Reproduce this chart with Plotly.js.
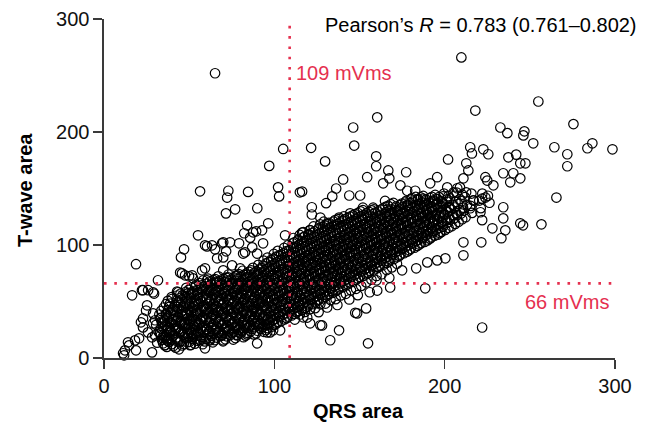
<!DOCTYPE html>
<html>
<head>
<meta charset="utf-8">
<script src="https://cdn.plot.ly/plotly-3.0.1.min.js"></script>
<style>html,body{margin:0;padding:0;background:#fff;}#chart{width:649px;height:431px;}</style>
</head>
<body>
<div id="chart"></div>
<script>
// Scattered points (QRS area, T-wave area)
const outlierQrs = [
65.2,209.8,255,218,160.4,146.3,275.6,105.2,121.6,129.8,
97,56.4,73,84.6,102.2,102.8,115,72.3,90,71.6,
77,146.9,232.7,236.8,246.8,246.2,252,264.4,272,272,
283.8,286.7,298.5,202,222.7,225.6,215,216,159.8,159.8,
177.4,166.9,154.5,140.4,136.3,134,130.4,122,150.4,144,
163.9,167.5,174,195.6,191.5,201.5,207.4,212.7,213.9,211,
223.9,228.6,234.4,240.3,244.4,247.4,238.5,244.4,223.9,265.6,
234.4,116.3,122,242,237.4,234.4,222,221,18.8,55.2,
47,45.2,60.5,65.2,70,74,66.4,70,71.7,79.3,
84,82.3,87.5,92.8,96.4,106.3,85.8,81.7,87,93.4,
89.9,45.8,49.9,52.3,31.7,22.9,25.9,28.8,16.5,43.5,
59.3,60.5,70,75.2,79.9,78.1,72.9,11.8,12.3,14.7,
18.2,20.6,28.2,22.9,25.3,21.7,22.9,25.8,28.8,30,
28.8,37,35.8,44,50.5,56.4,59.3,62.3,70,69.3,
78.1,84,89.9,95.8,99.3,103.4,222,155,132.8,138,
148.6,153.9,188.6,175,183.3,200.4,211,211,221.5,228,
233.3,235.6,244.4,256.8,168,160.4,195.6,189.8,121,128,
119.3,11.2,18.8,30,28.2,34.7,38.8,14.1,24.7,61.7,
79.9,97.5,95.8,22.3,29.4,42.9,44.7,47.6,51.7,59.3,
63.4,69.3,82.8,89.3,57.6,66.4,127,131,144.5,152,
158,165,178,182.7,187.4,193.3,209,203,215,216.8,
222,225,116.3,121,246,160,167.5,117,127,147.5
];
const outlierTwave = [
252,266,227,219,213,204,207,185,186,174,
170,147.5,148,147,151,143,146.6,142,132.5,128,
131.6,188,204,199,200.6,197,190,186.5,180.3,169.7,
185.6,190,184.7,175.7,184.7,180.3,186.5,181,178.5,169.7,
164.4,166,160,158,150,143,137,133.4,143.8,143.8,
154.6,159,152.8,160,154.6,151,150.2,172.3,166,159,
160,152.8,163.5,163.5,172.3,172.3,155.5,159,142,142,
133.4,147.3,127,180,177.6,123.6,122,129,83,108.6,
96.2,89,98.8,96.2,102.4,102.4,88.2,89,94.4,101.5,
117.4,110.4,111.2,113,119.2,108.6,106.5,92.4,97.9,101.5,
92.4,74.9,72.3,70.5,68.8,60,60,58.2,55.5,58.2,
79.4,68.8,77.6,82,79.4,73.2,71.4,2.4,6.8,11.2,
15.6,17.4,5,35,46.6,31.6,27.1,22.7,30.7,20,
39.5,15.7,11.3,7.7,11.3,15.7,8.6,15.7,15.7,20,
20,20.9,13,22.7,24.5,24.5,27,13,15.7,24.5,
39.5,43.9,61.7,77.6,79.4,88.2,90.9,102.4,102.4,114.8,
106,113,119.2,118.3,62.4,59.7,86.4,84.6,30.7,28.8,
35.8,4.2,6.8,33.4,18.3,13,24.5,13.9,42,15.7,
22.7,22.7,28.8,60,57,58.8,75.6,73.2,73.2,99.7,
99.7,101.5,93.5,112.1,77.6,66.9,124.3,119,128,133,
133,139,148,148,141,139,151,133,132.5,139.6,
141,157,111,113,117.4,68.8,71,36,29,40
];

// Lower fringe of the cloud between 110 and 175 mVms
const edgeQrs = [
112,115,118,121,124,127,130,133,136,139,
142,145,148,151,154,157,160,163,166,169,
172,114,126,137,144,156,131,149
];
const edgeTwave = [
34,38.5,40.8,43.2,44.1,47.5,48.2,51.3,52.1,55.4,
56.8,59.9,61.2,63.8,66.9,69.3,72.6,74.1,77.8,80.2,
83.4,45,40.6,46.9,51.8,58.2,44.7,55.6
];

// Dense core of the cloud, column by column (first pass)
const coreQrs = [
31.2,33.4,32.1,30.6,33.8,32.5,
35.6,34.2,36.3,34.8,35.9,33.7,36.5,35.1,
38.4,37.1,39.2,37.8,38.9,36.9,39.6,38.2,37.5,
40.7,41.9,40.2,42.3,41.1,39.8,42.0,40.5,41.6,40.1,
44.3,43.2,45.1,43.8,44.9,42.9,45.4,44.0,43.5,44.7,
46.8,47.6,46.1,48.2,47.0,45.9,48.0,46.5,47.4,46.2,47.9,
50.2,49.4,51.1,49.8,50.6,48.9,51.3,50.0,49.2,50.9,49.7,
53.4,52.1,54.0,52.7,53.8,51.9,54.2,52.5,53.1,54.4,52.3,53.6,
56.1,55.3,57.0,55.8,56.7,54.9,57.3,55.6,56.4,55.1,57.1,56.0,
59.2,58.4,60.1,58.9,59.7,58.0,60.3,58.7,59.5,58.2,60.0,59.1,
62.3,61.2,63.1,61.7,62.8,61.0,63.4,61.9,62.6,61.4,63.0,62.1,
65.1,64.3,66.0,64.7,65.6,64.0,66.2,64.5,65.4,64.2,65.9,64.8,65.3,
68.2,67.4,69.1,67.8,68.7,67.1,69.3,67.6,68.5,67.3,69.0,68.0,
71.3,70.2,72.1,70.8,71.7,70.1,72.4,70.6,71.5,70.4,72.0,70.9,71.6,
74.1,73.3,75.0,73.7,74.6,73.0,75.3,73.5,74.4,73.2,74.9,74.0,
77.2,76.3,78.1,76.8,77.7,76.1,78.3,76.6,77.5,76.4,78.0,76.9,77.4,
80.3,79.4,81.2,79.8,80.8,79.1,81.3,79.6,80.5,79.3,81.0,80.1,
83.1,82.2,84.0,82.7,83.6,82.0,84.2,82.5,83.4,82.3,83.9,82.8,83.5,
86.2,85.3,87.1,85.8,86.7,85.1,87.3,85.6,86.5,85.4,87.0,85.9,86.4,
89.3,88.2,90.1,88.7,89.6,88.0,90.3,88.5,89.4,88.4,90.0,88.9,89.5,
92.1,91.3,93.0,91.8,92.7,91.1,93.2,91.6,92.5,91.4,92.9,91.9,92.4,
95.2,94.3,96.1,94.8,95.7,94.1,96.3,94.6,95.5,94.4,96.0,94.9,95.4,95.0,
98.3,97.2,99.1,97.8,98.6,97.0,99.3,97.6,98.4,97.4,99.0,97.9,98.5,98.1,
101.2,100.3,102.1,100.7,101.6,100.1,102.3,100.5,101.4,100.4,102.0,100.8,101.5,101.1,
104.1,103.2,105.0,103.7,104.6,103.0,105.2,103.5,104.4,103.3,104.9,103.8,104.5,104.0,
107.3,106.2,108.1,106.8,107.6,106.0,108.3,106.6,107.4,106.4,108.0,106.9,107.5,107.1,
110.2,109.3,111.1,109.8,110.7,109.1,111.3,109.6,110.5,109.4,111.0,109.9,110.4,110.0,110.8,
113.1,112.2,114.0,112.7,113.6,112.0,114.2,112.5,113.4,112.3,113.9,112.8,113.5,113.0,113.7,
116.2,115.3,117.1,115.8,116.7,115.1,117.3,115.6,116.5,115.4,117.0,115.9,116.4,116.0,116.8,
119.3,118.2,120.1,118.8,119.6,118.0,120.3,118.6,119.4,118.4,120.0,118.9,119.5,119.1,119.8,
122.1,121.3,123.0,121.8,122.7,121.1,123.2,121.6,122.5,121.4,122.9,121.9,122.4,122.0,122.8,
125.2,124.3,126.1,124.8,125.7,124.1,126.3,124.6,125.5,124.4,126.0,124.9,125.4,125.0,125.8,
128.3,127.2,129.1,127.8,128.6,127.0,129.3,127.6,128.4,127.4,129.0,127.9,128.5,128.1,128.8,
131.1,130.2,132.0,130.7,131.6,130.0,132.2,130.5,131.4,130.3,131.9,130.8,131.5,131.0,131.7,
134.2,133.3,135.1,133.8,134.7,133.1,135.3,133.6,134.5,133.4,135.0,133.9,134.4,134.0,134.8,
137.3,136.2,138.1,136.8,137.6,136.0,138.3,136.6,137.4,136.4,138.0,136.9,137.5,137.1,137.8,
140.1,139.3,141.0,139.8,140.7,139.1,141.2,139.6,140.5,139.4,140.9,139.9,140.4,140.0,140.8,
143.2,142.3,144.1,142.8,143.7,142.1,144.3,142.6,143.5,142.4,144.0,142.9,143.4,143.0,
146.3,145.2,147.1,145.8,146.6,145.0,147.3,145.6,146.4,145.4,147.0,145.9,146.5,146.1,
149.1,148.2,150.0,148.7,149.6,148.0,150.2,148.5,149.4,148.3,149.9,148.8,149.5,149.0,
152.2,151.3,153.1,151.8,152.7,151.1,153.3,151.6,152.5,151.4,153.0,151.9,152.4,152.0,
155.3,154.2,156.1,154.8,155.6,154.0,156.3,154.6,155.4,154.4,156.0,154.9,155.5,
158.1,157.3,159.0,157.8,158.7,157.1,159.2,157.6,158.5,157.4,158.9,157.9,158.4,
161.2,160.3,162.1,160.8,161.7,160.1,162.3,160.6,161.5,160.4,162.0,160.9,
164.3,163.2,165.1,163.8,164.6,163.0,165.3,163.6,164.4,163.4,165.0,163.9,
167.1,166.2,168.0,166.7,167.6,166.0,168.2,166.5,167.4,166.3,167.9,166.8,
170.2,169.3,171.1,169.8,170.7,169.1,171.3,169.6,170.5,169.4,171.0,169.9,
173.3,172.2,174.1,172.8,173.6,172.0,174.3,172.6,173.4,172.4,174.0,
176.1,175.2,177.0,175.7,176.6,175.0,177.2,175.5,176.4,175.3,176.9,
179.2,178.3,180.1,178.8,179.7,178.1,180.3,178.6,179.5,178.4,180.0,
182.3,181.2,183.1,181.8,182.6,181.0,183.3,181.6,182.4,181.4,183.0,
185.1,184.3,186.0,184.8,185.7,184.1,186.2,184.6,185.5,184.4,
188.2,187.3,189.1,187.8,188.7,187.1,189.3,187.6,188.5,187.4,
191.3,190.2,192.1,190.8,191.6,190.0,192.3,190.6,191.4,
194.1,193.2,195.0,193.7,194.6,193.0,195.2,193.5,194.4,
197.2,196.3,198.1,196.8,197.7,196.1,198.3,196.6,
200.3,199.2,201.1,199.8,200.6,199.0,201.3,199.6,
204.1,203.2,205.0,203.7,204.6,203.0,205.2,
208.2,207.3,209.1,207.8,208.7,207.1,
212.3,211.2,213.1,211.8,212.6,
216.1,215.2,217.0,215.7,
221.2,220.3,222.1,
226.3,225.4
];
const coreTwave = [
13.6,20.2,23.1,29.4,32.2,38.5,
11.4,17.8,20.3,26.9,29.2,35.8,39.1,44.7,
14.2,17.1,23.4,26.2,32.1,35.4,41.8,45.3,50.6,
10.6,16.8,19.4,25.7,28.3,33.9,37.2,43.8,46.5,52.4,
13.8,16.5,22.9,25.3,31.6,34.2,40.7,43.4,49.8,53.1,
12.4,18.9,22.1,27.8,31.3,36.9,40.2,45.8,49.1,55.7,58.4,
14.3,19.8,23.2,29.6,32.4,38.7,41.3,47.9,50.2,56.8,60.3,
12.7,18.6,21.4,27.9,30.5,36.8,39.4,45.7,48.3,54.9,57.2,63.4,
16.4,21.9,25.3,30.8,34.2,39.6,43.1,48.7,52.4,57.9,61.3,66.2,
14.7,18.3,24.6,27.4,33.8,36.2,42.9,45.5,51.7,54.3,60.8,63.6,
17.5,22.8,26.4,31.9,35.3,40.8,44.2,49.6,53.1,58.7,62.4,67.8,
15.8,21.4,24.7,30.3,33.6,39.2,42.5,48.1,51.6,57.3,60.7,66.4,69.8,
19.3,23.6,28.9,32.4,37.8,41.3,46.7,50.2,55.8,59.4,64.7,68.1,
16.6,22.4,25.8,31.2,34.7,40.3,43.6,49.2,52.8,58.3,61.7,67.4,71.2,
20.4,24.7,29.8,33.5,38.9,42.4,47.8,51.3,56.7,60.2,65.6,68.8,
17.7,23.3,26.6,32.2,35.5,41.1,44.4,50.2,53.6,59.3,62.7,68.4,72.6,
21.6,26.3,30.7,35.4,39.6,44.3,48.5,53.2,57.4,62.3,66.5,71.3,
19.8,25.4,28.7,34.3,37.6,43.2,46.5,52.3,55.6,61.2,64.4,70.3,74.6,
23.7,28.4,32.6,37.3,41.5,46.2,50.4,55.3,59.5,64.2,68.4,73.3,77.6,
21.8,27.3,30.6,36.2,39.5,45.3,48.6,54.2,57.5,63.3,66.6,72.4,76.7,
25.6,30.4,34.7,39.3,43.6,48.3,52.5,57.2,61.4,66.3,70.5,75.2,79.6,
24.8,29.3,33.6,38.4,42.6,47.3,51.5,56.4,60.6,65.2,69.4,74.3,78.5,83.7,
27.7,32.4,36.6,41.3,45.5,50.4,54.6,59.3,63.5,68.4,72.6,77.3,81.6,86.8,
30.4,34.6,39.3,43.5,48.4,52.6,57.3,61.5,66.4,70.6,75.3,79.5,84.6,89.8,
32.7,37.4,41.6,46.3,50.5,55.4,59.6,64.3,68.5,73.4,77.6,82.3,86.5,91.7,
35.3,39.6,44.4,48.5,53.3,57.4,62.3,66.5,71.4,75.6,80.3,84.5,89.4,94.6,
37.6,42.3,46.5,51.4,55.6,60.3,64.5,69.4,73.6,78.3,82.5,87.4,91.6,96.8,101.5,
40.4,44.6,49.3,53.5,58.4,62.6,67.3,71.5,76.4,80.6,85.3,89.5,94.4,98.6,103.8,
42.6,47.3,51.5,56.4,60.6,65.3,69.5,74.4,78.6,83.3,87.5,92.4,96.6,101.3,106.7,
45.3,49.5,54.4,58.6,63.3,67.5,72.4,76.6,81.3,85.5,90.4,94.6,99.3,103.5,108.7,
47.6,52.3,56.5,61.4,65.6,70.3,74.5,79.4,83.6,88.3,92.5,97.4,101.6,106.3,110.8,
50.4,54.6,59.3,63.5,68.4,72.6,77.3,81.5,86.4,90.6,95.3,99.5,104.4,108.6,113.7,
52.7,57.4,61.6,66.3,70.5,75.4,79.6,84.3,88.5,93.4,97.6,102.3,106.5,111.4,115.8,
55.3,59.6,64.4,68.5,73.3,77.4,82.3,86.5,91.4,95.6,100.3,104.5,109.4,113.6,118.2,
57.6,62.3,66.5,71.4,75.6,80.3,84.5,89.4,93.6,98.3,102.5,107.4,111.6,116.3,120.7,
60.4,64.6,69.3,73.5,78.4,82.6,87.3,91.5,96.4,100.6,105.3,109.5,114.4,118.6,122.9,
62.7,67.4,71.6,76.3,80.5,85.4,89.6,94.3,98.5,103.4,107.6,112.3,116.5,121.4,125.3,
65.3,69.6,74.4,78.5,83.3,87.4,92.3,96.5,101.4,105.6,110.3,114.5,119.4,123.8,
67.6,72.3,76.5,81.4,85.6,90.3,94.5,99.4,103.6,108.3,112.5,117.4,121.6,126.2,
70.4,74.6,79.3,83.5,88.4,92.6,97.3,101.5,106.4,110.6,115.3,119.5,124.4,128.3,
72.7,77.4,81.6,86.3,90.5,95.4,99.6,104.3,108.5,113.4,117.6,122.3,126.5,130.8,
75.3,79.6,84.4,88.5,93.3,97.4,102.3,106.5,111.4,115.6,120.3,124.5,129.4,
77.6,82.3,86.5,91.4,95.6,100.3,104.5,109.4,113.6,118.3,122.5,127.4,131.6,
80.4,84.6,89.3,93.5,98.4,102.6,107.3,111.5,116.4,120.6,125.3,129.7,
82.7,87.4,91.6,96.3,100.5,105.4,109.6,114.3,118.5,123.4,127.6,132.5,
85.3,89.6,94.4,98.5,103.3,107.4,112.3,116.5,121.4,125.6,130.3,134.6,
87.6,92.3,96.5,101.4,105.6,110.3,114.5,119.4,123.6,128.3,132.5,137.2,
90.4,94.6,99.3,103.5,108.4,112.6,117.3,121.5,126.4,130.6,135.3,
92.7,97.4,101.6,106.3,110.5,115.4,119.6,124.3,128.5,133.4,137.6,
95.3,99.6,104.4,108.5,113.3,117.4,122.3,126.5,131.4,135.6,140.3,
97.6,102.3,106.5,111.4,115.6,120.3,124.5,129.4,133.6,138.3,142.5,
100.4,104.6,109.3,113.5,118.4,122.6,127.3,131.5,136.4,140.6,
102.7,107.4,111.6,116.3,120.5,125.4,129.6,134.3,138.5,143.4,
105.6,110.3,114.5,119.4,123.6,128.3,132.5,137.4,141.6,
108.3,112.5,117.4,121.6,126.3,130.5,135.4,139.6,144.3,
110.6,115.3,119.5,124.4,128.6,133.3,137.5,142.4,
113.4,118.6,122.3,127.5,131.4,136.6,140.3,145.5,
116.6,122.3,126.5,131.4,135.6,141.3,146.5,
120.5,126.4,130.6,136.3,140.5,146.4,
124.6,130.3,135.5,142.4,146.6,
128.4,134.6,139.3,145.5,
132.6,139.3,145.5,
137.4,143.6
];

// Dense core, second pass (between the first-pass columns)
const coreQrs2 = [
34.0,32.9,33.8,34.5,33.1,33.6,
36.9,37.4,36.0,36.8,37.2,35.8,36.3,37.6,36.4,
39.9,39.1,40.3,38.9,39.6,40.6,39.3,40.1,38.8,39.7,
42.1,43.2,42.8,41.9,43.0,42.4,43.4,42.0,42.9,42.6,43.1,
45.9,45.0,46.2,45.4,46.0,44.8,45.7,46.3,45.2,45.8,44.9,
48.9,48.1,49.3,48.6,47.9,49.0,48.4,49.2,48.0,48.8,49.4,48.3,
51.0,51.9,51.4,52.2,50.8,51.7,51.2,52.0,51.5,50.9,51.8,51.3,
54.8,54.1,55.2,54.5,53.9,55.0,54.3,54.9,54.0,55.3,54.6,54.2,
57.9,57.1,58.2,57.6,56.9,58.0,57.3,57.8,57.0,58.3,57.5,57.2,58.1,
60.1,60.9,60.4,61.2,59.8,60.7,60.2,61.0,60.5,59.9,60.8,60.3,61.1,
63.9,63.1,64.2,63.6,62.9,64.0,63.3,63.8,63.0,64.3,63.5,63.2,64.1,
66.1,66.9,66.4,67.2,65.8,66.7,66.2,67.0,66.5,65.9,66.8,66.3,67.1,
69.9,69.1,70.2,69.6,68.9,70.0,69.3,69.8,69.0,70.3,69.5,69.2,70.1,
72.1,72.9,72.4,73.2,71.8,72.7,72.2,73.0,72.5,71.9,72.8,72.3,73.1,
75.9,75.1,76.2,75.6,74.9,76.0,75.3,75.8,75.0,76.3,75.5,75.2,76.1,
78.1,78.9,78.4,79.2,77.8,78.7,78.2,79.0,78.5,77.9,78.8,78.3,79.1,
81.9,81.1,82.2,81.6,80.9,82.0,81.3,81.8,81.0,82.3,81.5,81.2,82.1,81.4,
84.1,84.9,84.4,85.2,83.8,84.7,84.2,85.0,84.5,83.9,84.8,84.3,85.1,
87.9,87.1,88.2,87.6,86.9,88.0,87.3,87.8,87.0,88.3,87.5,87.2,88.1,87.4,
90.1,90.9,90.4,91.2,89.8,90.7,90.2,91.0,90.5,89.9,90.8,90.3,91.1,90.6,
93.9,93.1,94.2,93.6,92.9,94.0,93.3,93.8,93.0,94.3,93.5,93.2,94.1,93.4,93.7,
96.1,96.9,96.4,97.2,95.8,96.7,96.2,97.0,96.5,95.9,96.8,96.3,97.1,96.6,96.0,
99.9,99.1,100.2,99.6,98.9,100.0,99.3,99.8,99.0,100.3,99.5,99.2,100.1,99.4,99.7,
102.1,102.9,102.4,103.2,101.8,102.7,102.2,103.0,102.5,101.9,102.8,102.3,103.1,102.6,102.0,
105.9,105.1,106.2,105.6,104.9,106.0,105.3,105.8,105.0,106.3,105.5,105.2,106.1,105.4,105.7,
108.1,108.9,108.4,109.2,107.8,108.7,108.2,109.0,108.5,107.9,108.8,108.3,109.1,108.6,108.0,
111.9,111.1,112.2,111.6,110.9,112.0,111.3,111.8,111.0,112.3,111.5,111.2,112.1,111.4,111.7,111.2,
114.1,114.9,114.4,115.2,113.8,114.7,114.2,115.0,114.5,113.9,114.8,114.3,115.1,114.6,114.0,114.9,
117.9,117.1,118.2,117.6,116.9,118.0,117.3,117.8,117.0,118.3,117.5,117.2,118.1,117.4,117.7,117.0,
120.1,120.9,120.4,121.2,119.8,120.7,120.2,121.0,120.5,119.9,120.8,120.3,121.1,120.6,120.0,120.9,
123.9,123.1,124.2,123.6,122.9,124.0,123.3,123.8,123.0,124.3,123.5,123.2,124.1,123.4,123.7,123.0,
126.1,126.9,126.4,127.2,125.8,126.7,126.2,127.0,126.5,125.9,126.8,126.3,127.1,126.6,126.0,126.9,
129.9,129.1,130.2,129.6,128.9,130.0,129.3,129.8,129.0,130.3,129.5,129.2,130.1,129.4,129.7,129.0,
132.1,132.9,132.4,133.2,131.8,132.7,132.2,133.0,132.5,131.9,132.8,132.3,133.1,132.6,132.0,
135.9,135.1,136.2,135.6,134.9,136.0,135.3,135.8,135.0,136.3,135.5,135.2,136.1,135.4,135.7,
138.1,138.9,138.4,139.2,137.8,138.7,138.2,139.0,138.5,137.9,138.8,138.3,139.1,138.6,138.0,
141.9,141.1,142.2,141.6,140.9,142.0,141.3,141.8,141.0,142.3,141.5,141.2,142.1,141.4,
144.1,144.9,144.4,145.2,143.8,144.7,144.2,145.0,144.5,143.9,144.8,144.3,145.1,144.6,
147.9,147.1,148.2,147.6,146.9,148.0,147.3,147.8,147.0,148.3,147.5,147.2,148.1,147.4,
150.1,150.9,150.4,151.2,149.8,150.7,150.2,151.0,150.5,149.9,150.8,150.3,151.1,150.6,
153.9,153.1,154.2,153.6,152.9,154.0,153.3,153.8,153.0,154.3,153.5,153.2,154.1,
156.1,156.9,156.4,157.2,155.8,156.7,156.2,157.0,156.5,155.9,156.8,156.3,157.1,
159.9,159.1,160.2,159.6,158.9,160.0,159.3,159.8,159.0,160.3,159.5,159.2,
162.1,162.9,162.4,163.2,161.8,162.7,162.2,163.0,162.5,161.9,162.8,162.3,
165.9,165.1,166.2,165.6,164.9,166.0,165.3,165.8,165.0,166.3,165.5,165.2,
168.1,168.9,168.4,169.2,167.8,168.7,168.2,169.0,168.5,167.9,168.8,168.3,
171.9,171.1,172.2,171.6,170.9,172.0,171.3,171.8,171.0,172.3,171.5,
174.1,174.9,174.4,175.2,173.8,174.7,174.2,175.0,174.5,173.9,174.8,
177.9,177.1,178.2,177.6,176.9,178.0,177.3,177.8,177.0,178.3,177.5,
180.1,180.9,180.4,181.2,179.8,180.7,180.2,181.0,180.5,179.9,180.8,
183.9,183.1,184.2,183.6,182.9,184.0,183.3,183.8,183.0,184.3,
186.1,186.9,186.4,187.2,185.8,186.7,186.2,187.0,186.5,185.9,
189.9,189.1,190.2,189.6,188.9,190.0,189.3,189.8,189.0,
192.1,192.9,192.4,193.2,191.8,192.7,192.2,193.0,192.5,
195.9,195.1,196.2,195.6,194.9,196.0,195.3,195.8,
198.1,198.9,198.4,199.2,197.8,198.7,198.2,199.0,
202.3,201.6,202.7,201.9,202.5,201.4,202.1,
206.2,205.5,206.8,205.9,206.4,205.7,
210.3,209.6,210.8,209.9,210.4
];
const coreTwave2 = [
16.1,21.8,26.3,31.5,35.2,41.7,
9.8,15.2,19.1,24.6,28.3,33.1,37.9,42.2,47.6,
12.3,15.9,21.7,24.8,30.4,34.3,39.2,42.6,48.1,53.9,
9.2,14.6,18.3,23.9,27.1,32.5,36.4,41.3,45.2,50.7,55.3,
11.1,15.2,20.8,24.1,29.7,32.9,38.6,42.2,47.3,51.8,56.9,
13.9,17.4,21.2,25.6,30.2,34.8,39.3,43.7,48.2,52.9,57.4,62.1,
11.6,16.9,21.5,25.4,29.9,34.6,39.5,44.1,48.8,53.2,58.6,62.4,
15.3,19.7,23.8,28.6,33.1,37.4,41.9,46.5,50.9,55.8,60.1,64.8,
12.2,18.8,23.1,27.9,32.4,36.8,41.6,45.9,50.5,55.1,59.7,64.2,68.6,
16.8,20.9,25.5,29.6,34.4,38.9,43.5,47.8,52.6,56.9,61.5,65.8,70.2,
13.9,19.6,24.3,28.8,33.2,37.9,42.3,46.9,51.4,55.8,60.2,64.9,69.1,
18.1,22.6,27.2,31.8,36.1,40.7,45.2,49.6,54.3,58.8,63.1,67.7,72.3,
14.8,20.7,25.1,29.5,34.2,38.6,43.3,47.7,52.1,56.6,61.2,65.5,70.1,
19.2,23.7,28.1,32.9,37.2,41.8,46.3,50.8,55.2,59.7,64.3,68.6,73.9,
16.3,21.8,26.2,30.7,35.3,39.8,44.2,48.9,53.3,57.8,62.2,66.9,71.4,
20.6,24.9,29.4,33.8,38.4,42.9,47.4,51.9,56.3,60.8,65.3,69.9,74.2,
18.4,23.9,28.3,32.7,37.3,41.9,46.2,50.9,55.4,59.8,64.3,68.8,73.5,77.2,
22.3,26.8,31.4,35.8,40.3,44.9,49.3,53.8,58.4,62.7,67.3,71.8,76.3,
20.9,25.7,30.1,34.6,39.2,43.6,48.2,52.7,57.1,61.6,66.2,70.7,75.2,79.8,
24.1,28.7,33.2,37.6,42.1,46.7,51.2,55.6,60.2,64.7,69.1,73.6,78.2,82.4,
23.2,27.6,32.1,36.7,41.2,45.6,50.1,54.7,59.2,63.6,68.1,72.7,77.2,81.6,86.1,
26.4,30.9,35.4,39.9,44.3,48.8,53.4,57.8,62.3,66.9,71.3,75.8,80.4,84.8,88.9,
29.3,33.7,38.2,42.8,47.2,51.7,56.3,60.7,65.2,69.8,74.2,78.7,83.3,87.7,92.1,
31.8,36.2,40.7,45.3,49.7,54.2,58.8,63.2,67.7,72.3,76.7,81.2,85.8,90.2,94.8,
34.2,38.6,43.2,47.7,52.1,56.7,61.2,65.6,70.2,74.7,79.1,83.7,88.2,92.6,97.4,
36.7,41.1,45.6,50.2,54.6,59.1,63.7,68.1,72.6,77.2,81.6,86.1,90.7,95.1,99.8,
39.1,43.6,48.1,52.6,57.1,61.6,66.1,70.6,75.1,79.6,84.1,88.6,93.1,97.6,102.4,106.2,
41.6,46.2,50.6,55.1,59.7,64.1,68.6,73.2,77.6,82.1,86.7,91.1,95.6,100.2,104.7,108.9,
44.1,48.6,53.2,57.6,62.1,66.7,71.1,75.6,80.2,84.6,89.1,93.7,98.1,102.6,107.2,111.4,
46.6,51.1,55.6,60.2,64.6,69.1,73.7,78.1,82.6,87.2,91.6,96.1,100.7,105.1,109.6,113.2,
49.2,53.6,58.1,62.7,67.1,71.6,76.2,80.6,85.1,89.7,94.1,98.6,103.2,107.6,112.1,116.4,
51.6,56.1,60.7,65.1,69.6,74.2,78.6,83.1,87.7,92.1,96.6,101.2,105.6,110.1,114.7,118.3,
54.1,58.6,63.2,67.6,72.1,76.7,81.1,85.6,90.2,94.6,99.1,103.7,108.1,112.6,117.2,120.6,
56.7,61.1,65.6,70.2,74.6,79.1,83.7,88.1,92.6,97.2,101.6,106.1,110.7,115.1,119.6,
59.2,63.6,68.1,72.7,77.1,81.6,86.2,90.6,95.1,99.7,104.1,108.6,113.2,117.6,122.1,
61.6,66.1,70.7,75.1,79.6,84.2,88.6,93.1,97.7,102.1,106.6,111.2,115.6,120.1,124.2,
64.1,68.6,73.2,77.6,82.1,86.7,91.1,95.6,100.2,104.6,109.1,113.7,118.1,122.6,
66.7,71.1,75.6,80.2,84.6,89.1,93.7,98.1,102.6,107.2,111.6,116.1,120.7,125.1,
69.2,73.6,78.1,82.7,87.1,91.6,96.2,100.6,105.1,109.7,114.1,118.6,123.2,127.4,
71.6,76.1,80.7,85.1,89.6,94.2,98.6,103.1,107.7,112.1,116.6,121.2,125.6,129.8,
74.1,78.6,83.2,87.6,92.1,96.7,101.1,105.6,110.2,114.6,119.1,123.7,128.1,
76.7,81.1,85.6,90.2,94.6,99.1,103.7,108.1,112.6,117.2,121.6,126.1,130.7,
79.2,83.6,88.1,92.7,97.1,101.6,106.2,110.6,115.1,119.7,124.1,128.6,
81.6,86.1,90.7,95.1,99.6,104.2,108.6,113.1,117.7,122.1,126.6,131.2,
84.1,88.6,93.2,97.6,102.1,106.7,111.1,115.6,120.2,124.6,129.1,133.7,
86.7,91.1,95.6,100.2,104.6,109.1,113.7,118.1,122.6,127.2,131.6,136.1,
89.2,93.6,98.1,102.7,107.1,111.6,116.2,120.6,125.1,129.7,134.1,
91.6,96.1,100.7,105.1,109.6,114.2,118.6,123.1,127.7,132.1,136.6,
94.1,98.6,103.2,107.6,112.1,116.7,121.1,125.6,130.2,134.6,139.1,
96.7,101.1,105.6,110.2,114.6,119.1,123.7,128.1,132.6,137.2,141.6,
99.2,103.6,108.1,112.7,117.1,121.6,126.2,130.6,135.1,139.7,
101.6,106.1,110.7,115.1,119.6,124.2,128.6,133.1,137.7,142.1,
104.1,108.6,113.2,117.6,122.1,126.7,131.1,135.6,140.2,
106.7,111.1,115.6,120.2,124.6,129.1,133.7,138.1,142.6,
109.2,113.6,118.1,122.7,127.1,131.6,136.2,140.6,
111.6,116.1,120.7,125.1,129.6,134.2,138.6,143.1,
115.2,119.8,124.4,129.1,133.7,138.4,143.2,
118.7,123.5,128.3,133.2,138.1,143.6,
122.8,127.9,133.1,138.7,144.5
];

const qrsCutoff = 109;    // mVms
const twaveCutoff = 66;   // mVms
const axisTicks = [0, 100, 200, 300];
const pearsonText = 'Pearson’s <i>R</i> = 0.783 (0.761–0.802)';

const qrsArea = outlierQrs.concat(edgeQrs, coreQrs, coreQrs2);
const tWaveArea = outlierTwave.concat(edgeTwave, coreTwave, coreTwave2);

const red = '#e5304f';
const font = 'Liberation Sans, Arial, Helvetica, sans-serif';

const trace = {
  type: 'scatter', mode: 'markers',
  x: qrsArea, y: tWaveArea,
  cliponaxis: false,
  marker: {symbol: 'circle-open', size: 9.5, color: '#000', line: {width: 1.2, color: '#000'}},
  hoverinfo: 'skip'
};

const dotLine = {color: red, width: 2.6, dash: '2.6px,7.7px'};

const layout = {
  width: 649, height: 431,
  margin: {l: 104, r: 34, t: 19, b: 73.3, pad: 0},
  paper_bgcolor: '#fff', plot_bgcolor: '#fff',
  showlegend: false,
  font: {family: font, size: 20, color: '#000'},
  xaxis: {
    range: [0, 300], tickvals: axisTicks, ticktext: axisTicks.map(String),
    showgrid: false, zeroline: false, showline: true, linecolor: '#3a3a3a', linewidth: 1.6,
    ticks: 'outside', ticklen: 9, tickwidth: 1.6, tickcolor: '#3a3a3a',
    tickfont: {family: font, size: 20, color: '#111'}, fixedrange: true
  },
  yaxis: {
    range: [0, 300], tickvals: axisTicks, ticktext: axisTicks.map(String),
    showgrid: false, zeroline: false, showline: true, linecolor: '#3a3a3a', linewidth: 1.6,
    ticks: 'outside', ticklen: 9, tickwidth: 1.6, tickcolor: '#3a3a3a',
    tickfont: {family: font, size: 20, color: '#111'}, fixedrange: true
  },
  shapes: [
    {type: 'line', xref: 'x', yref: 'y', x0: qrsCutoff, x1: qrsCutoff, y0: 0, y1: 300, line: dotLine, layer: 'above'},
    {type: 'line', xref: 'x', yref: 'y', x0: 0, x1: 300, y0: twaveCutoff, y1: twaveCutoff, line: dotLine, layer: 'above'}
  ],
  annotations: [
    {xref: 'paper', yref: 'paper', x: 1.046, y: 0.982, xanchor: 'right', yanchor: 'middle',
     text: pearsonText, showarrow: false, font: {family: font, size: 20, color: '#000'}},
    {xref: 'x', yref: 'y', x: 111.5, y: 252, xanchor: 'left', yanchor: 'middle',
     text: qrsCutoff + ' mVms', showarrow: false, font: {family: font, size: 20, color: red}},
    {xref: 'x', yref: 'y', x: 297.5, y: 50, xanchor: 'right', yanchor: 'middle',
     text: twaveCutoff + ' mVms', showarrow: false, font: {family: font, size: 20, color: red}},
    {xref: 'paper', yref: 'paper', x: 0.498, y: -0.155, xanchor: 'center', yanchor: 'middle',
     text: '<b>QRS area</b>', showarrow: false, font: {family: font, size: 20, color: '#000'}},
    {xref: 'paper', yref: 'paper', x: -0.155, y: 0.495, xanchor: 'center', yanchor: 'middle', textangle: -90,
     text: '<b>T-wave area</b>', showarrow: false, font: {family: font, size: 20, color: '#000'}}
  ]
};

Plotly.newPlot('chart', [trace], layout, {staticPlot: true, displayModeBar: false});
</script>
</body>
</html>
